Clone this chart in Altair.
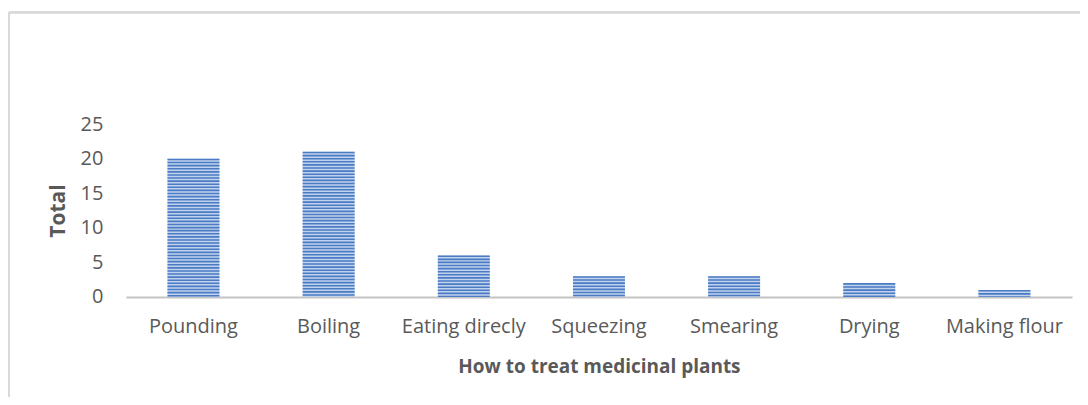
import altair as alt
import pandas as pd

methods = ["Pounding", "Boiling", "Eating direcly", "Squeezing", "Smearing", "Drying", "Making flour"]
totals = [20, 21, 6, 3, 3, 2, 1]
y_ticks = [0, 5, 10, 15, 20, 25]

df = pd.DataFrame({"method": methods, "total": totals})

FONT = "Open Sans"
LABEL_COLOR = "#595959"
DARK = "#4A7BC4"
LIGHT = "#C0D2EC"

x_axis = alt.Axis(
    title="How to treat medicinal plants",
    labelAngle=0,
    labelFont=FONT,
    labelFontSize=20,
    labelColor=LABEL_COLOR,
    labelPadding=20,
    labelOverlap=False,
    ticks=False,
    domainColor="#C4C4C4",
    domainWidth=2,
    titleFont=FONT,
    titleFontSize=19,
    titleFontWeight="bold",
    titleColor=LABEL_COLOR,
    titlePadding=21,
)
y_axis = alt.Axis(
    title="Total",
    values=y_ticks,
    grid=False,
    domain=False,
    ticks=False,
    labelOverlap=False,
    labelFont=FONT,
    labelFontSize=20,
    labelColor=LABEL_COLOR,
    labelPadding=23,
    titleFont=FONT,
    titleFontSize=21,
    titleFontWeight="bold",
    titleColor=LABEL_COLOR,
    titlePadding=12,
)
x_scale = alt.Scale(paddingInner=0.615, paddingOuter=0.3075)
y_scale = alt.Scale(domain=[0, 25], nice=False)

base = alt.Chart(df)

bars = base.mark_bar(color=LIGHT).encode(
    x=alt.X("method:N", sort=methods, scale=x_scale, axis=x_axis),
    y=alt.Y("total:Q", scale=y_scale, axis=y_axis),
)

stripes = base.mark_rule(color=DARK, strokeWidth=52, strokeDash=[1.6, 1.5]).encode(
    x=alt.X("method:N", sort=methods, scale=x_scale, axis=x_axis),
    y=alt.Y("total:Q", scale=y_scale, axis=y_axis),
    y2=alt.datum(0),
)

frame_top = alt.Chart(df).mark_rule(color="#D9D9D9", strokeWidth=2).encode(
    x=alt.value(-117), x2=alt.value(980), y=alt.value(-112)
)
frame_left = alt.Chart(df).mark_rule(color="#D9D9D9", strokeWidth=2).encode(
    x=alt.value(-117), y=alt.value(-112), y2=alt.value(320)
)

chart = (
    alt.layer(bars, stripes, frame_top, frame_left)
    .properties(
        width=947,
        height=173,
        autosize=alt.AutoSizeParams(type="none"),
        padding={"left": 118, "top": 116, "right": 8, "bottom": 100},
    )
    .configure_view(stroke=None)
    .configure_axisY(labelOverlap=False)
)

chart.save("out.html", embed_options={"renderer": "svg", "actions": False})
